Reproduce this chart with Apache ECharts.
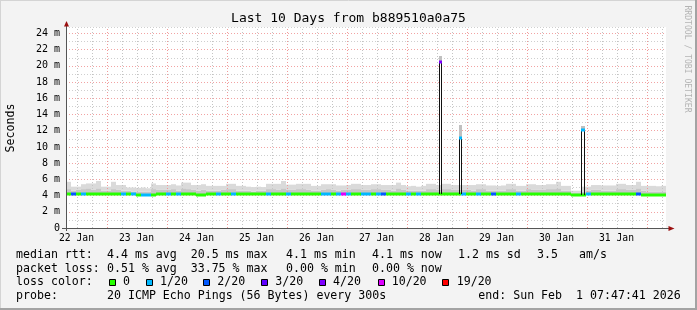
<!DOCTYPE html>
<html><head><meta charset="utf-8">
<script src="https://cdn.jsdelivr.net/npm/echarts@6/dist/echarts.min.js"></script>
<style>html,body{margin:0;padding:0;background:#f3f3f3}#c{width:697px;height:310px}</style>
</head><body><div id="c"></div>
<script>
// ---- data (hours since 22 Jan 00:00; values in ms) ----
const START_H = 7.795;      // Jan 22 07:47:41
const END_H = 247.795;      // Feb 1 07:47:41
const BIN_H = 2;            // each sample covers 2 hours
const Y_MAX = 24.8;

const smokeLow = [
 4.15,4.15,4.15,4.15,4.15,4.15,4.15,4.15,4.15,4.15,
 4.15,4.15,4.15,4.15,4.0,4.0,4.0,4.0,4.15,4.15,
 4.15,4.15,4.15,4.15,4.15,4.15,4.0,4.0,4.15,4.15,
 4.15,4.15,4.15,4.15,4.15,4.15,4.15,4.15,4.15,4.15,
 4.15,4.15,4.15,4.15,4.15,4.15,4.15,4.15,4.15,4.15,
 4.15,4.15,4.15,4.15,4.15,4.15,4.15,4.15,4.15,4.15,
 4.15,4.15,4.15,4.15,4.15,4.15,4.15,4.15,4.15,4.15,
 4.15,4.15,4.15,4.15,4.15,4.15,4.15,4.15,4.15,4.15,
 4.15,4.15,4.15,4.15,4.15,4.15,4.15,4.15,4.15,4.15,
 4.15,4.15,4.15,4.15,4.15,4.15,4.15,4.15,4.15,4.15,
 4.15,4.0,4.0,4.0,4.15,4.15,4.15,4.15,4.15,4.15,
 4.15,4.15,4.15,4.15,4.15,4.0,4.0,4.0,4.0,4.0
];
const smokeMid = [
 4.8,4.6,4.7,4.8,4.9,4.7,4.9,4.6,4.6,4.8,
 4.7,4.6,4.6,4.5,4.5,4.5,4.5,4.8,4.7,4.7,
 4.7,4.8,4.6,4.9,4.8,4.7,4.6,4.7,4.6,4.6,
 4.6,4.7,4.8,4.8,4.6,4.6,4.6,4.5,4.6,4.6,
 4.8,4.8,4.7,4.9,4.7,4.7,4.8,4.8,4.7,4.6,
 4.6,4.7,4.8,4.7,4.6,4.7,4.7,4.8,4.8,4.7,
 4.7,4.8,4.8,4.7,4.7,4.6,4.9,4.7,4.6,4.6,
 4.6,4.6,4.8,4.8,4.7,4.8,4.8,4.7,4.7,4.7,
 4.7,4.6,4.8,4.8,4.6,4.6,4.6,4.6,4.8,4.8,
 4.6,4.6,4.8,4.7,4.7,4.7,4.8,4.8,4.9,4.6,
 4.6,4.3,4.3,4.5,4.6,4.7,4.7,4.6,4.6,4.6,
 4.8,4.8,4.7,4.7,4.9,4.6,4.5,4.5,4.5,4.5
];
const smokeTop = [
 5.7,5.1,5.1,5.4,5.5,5.5,5.8,5.1,5.1,5.7,
 5.3,5.3,5.0,5.0,4.95,5.0,4.9,5.5,5.3,5.3,
 5.3,5.4,5.25,5.6,5.6,5.3,5.3,5.4,5.2,5.2,
 5.2,5.2,5.45,5.45,5.2,5.2,5.1,5.05,5.1,5.05,
 5.45,5.45,5.45,5.8,5.35,5.35,5.45,5.45,5.45,5.2,
 5.2,5.4,5.4,5.4,5.25,5.25,5.3,5.45,5.45,5.3,
 5.3,5.4,5.4,5.3,5.3,5.3,5.6,5.3,5.15,5.2,
 5.1,5.2,5.45,5.45,5.3,5.45,5.45,5.3,5.3,5.3,
 5.3,5.3,5.4,5.4,5.25,5.25,5.2,5.25,5.45,5.45,
 5.2,5.2,5.4,5.4,5.3,5.3,5.4,5.4,5.7,5.2,
 5.2,4.6,4.6,5.1,5.1,5.3,5.3,5.25,5.25,5.25,
 5.45,5.45,5.3,5.3,5.7,5.2,5.2,5.2,5.15,5.2
];
const median = [
 4.25,4.25,4.25,4.25,4.25,4.25,4.25,4.25,4.25,4.25,
 4.25,4.25,4.25,4.25,4.1,4.1,4.1,4.1,4.25,4.25,
 4.25,4.25,4.25,4.25,4.25,4.25,4.1,4.1,4.25,4.25,
 4.25,4.25,4.25,4.25,4.25,4.25,4.25,4.25,4.25,4.25,
 4.25,4.25,4.25,4.25,4.25,4.25,4.25,4.25,4.25,4.25,
 4.25,4.25,4.25,4.25,4.25,4.25,4.25,4.25,4.25,4.25,
 4.25,4.25,4.25,4.25,4.25,4.25,4.25,4.25,4.25,4.25,
 4.25,4.25,4.25,4.25,4.25,4.25,4.25,4.25,4.25,4.25,
 4.25,4.25,4.25,4.25,4.25,4.25,4.25,4.25,4.25,4.25,
 4.25,4.25,4.25,4.25,4.25,4.25,4.25,4.25,4.25,4.25,
 4.25,4.1,4.1,4.1,4.25,4.25,4.25,4.25,4.25,4.25,
 4.25,4.25,4.25,4.25,4.25,4.1,4.1,4.1,4.1,4.1
];
// loss class index per sample (index into lossColors)
const loss = [
 0,2,0,1,0,0,0,0,0,0,
 0,1,0,1,0,1,1,0,0,0,
 1,0,1,0,0,0,0,0,0,0,
 1,0,0,1,0,0,0,0,0,0,
 1,0,0,0,1,0,0,0,0,0,
 0,1,1,0,1,5,1,0,0,1,
 1,0,1,2,0,0,0,0,1,0,
 1,0,0,0,0,0,0,0,0,1,
 0,0,1,0,0,2,0,0,0,0,
 1,0,0,0,0,0,0,0,0,0,
 0,0,0,0,1,0,0,0,0,0,
 0,0,0,0,2,0,0,0,0,0
];
// short latency spikes
const spikeStart  = [157.1, 165.1, 213.9];
const spikeEnd    = [157.9, 165.9, 214.9];
const spikeBase   = [4.25, 4.25, 4.1];
const spikeMedian = [20.5, 11.1, 12.05];
const spikeTop    = [21.2, 12.7, 12.55];
const spikeLoss   = [4, 1, 1];

const lossColors = ['#26ff00','#00b8ff','#0059ff','#5e00ff','#7e00ff','#dd00ff','#ff0000'];
const lossLabels = ['0','1/20','2/20','3/20','4/20','10/20','19/20'];
const dayLabels = ['22 Jan','23 Jan','24 Jan','25 Jan','26 Jan','27 Jan','28 Jan','29 Jan','30 Jan','31 Jan'];
const dayLabelHours = [12,36,60,84,108,132,156,180,204,228];

const statsRtt  = ['median rtt:','4.4 ms avg','20.5 ms max','4.1 ms min','4.1 ms now','1.2 ms sd','3.5','am/s'];
const statsLoss = ['packet loss:','0.51 % avg','33.75 % max','0.00 % min','0.00 % now'];
const probeText = ['probe:','20 ICMP Echo Pings (56 Bytes) every 300s','end: Sun Feb  1 07:47:41 2026'];
const titleText = 'Last 10 Days from b889510a0a75';

// ---- build ----
const MONO = 'DejaVu Sans Mono';
const GRID = {left:66, top:27, width:600, height:201};
const minorH = [], majorH = [];
for (let h = 12; h < END_H; h += 6) { (h % 24 === 0 ? majorH : minorH).push([h]); }

const bins = smokeTop.map((t,i)=>[START_H+i*BIN_H, START_H+(i+1)*BIN_H, smokeLow[i], smokeMid[i], t, median[i], loss[i]]);
const spikes = spikeStart.map((s,i)=>[s, spikeEnd[i], spikeBase[i], spikeMedian[i], spikeTop[i], spikeLoss[i]]);

function renderSmoke(params, api){
  const s=api.value(0), e=api.value(1);
  const x0=Math.round(api.coord([s,0])[0]), x1=Math.round(api.coord([e,0])[0]);
  const yLo=api.coord([s,api.value(2)])[1], yMi=api.coord([s,api.value(3)])[1], yHi=api.coord([s,api.value(4)])[1];
  return {type:'group', children:[
    {type:'rect', shape:{x:x0,y:yMi,width:x1-x0,height:yLo-yMi}, style:{fill:'#c6c6c6'}},
    {type:'rect', shape:{x:x0,y:yHi,width:x1-x0,height:yMi-yHi}, style:{fill:'#dadada'}}
  ]};
}
function renderMedian(params, api){
  const s=api.value(0), e=api.value(1);
  const x0=Math.round(api.coord([s,0])[0]), x1=Math.round(api.coord([e,0])[0]);
  const y=Math.round(api.coord([s,api.value(5)])[1]);
  return {type:'rect', shape:{x:x0,y:y-1.5,width:x1-x0,height:3}, style:{fill:lossColors[api.value(6)]}};
}
function renderSpike(params, api){
  const s=api.value(0), e=api.value(1);
  const x0=Math.round(api.coord([s,0])[0]), x1=Math.round(api.coord([e,0])[0]);
  const yB=Math.round(api.coord([s,api.value(2)])[1]);
  const yM=Math.round(api.coord([s,api.value(3)])[1]);
  const yT=Math.round(api.coord([s,api.value(4)])[1]);
  return {type:'group', children:[
    {type:'rect', shape:{x:x0,y:yT,width:x1-x0+1,height:yM-yT}, style:{fill:'#c0c0c0'}},
    {type:'polyline', shape:{points:[[x0+0.5,yB],[x0+0.5,yM],[x1+0.5,yM],[x1+0.5,yB]]}, style:{stroke:'#111',lineWidth:1,fill:null}},
    {type:'rect', shape:{x:x0,y:yM-1.5,width:x1-x0+1,height:3}, style:{fill:lossColors[api.value(5)]}}
  ]};
}
function gridRenderer(color){
  return function(params, api){
    const x=Math.round(api.coord([api.value(0),0])[0])+0.5;
    const yb=api.coord([api.value(0),0])[1], yt=api.coord([api.value(0),Y_MAX])[1];
    return {type:'line', shape:{x1:x,y1:yb,x2:x,y2:yt}, style:{stroke:color,lineWidth:1,lineDash:[1,2]}};
  };
}

const txt = (x,y,text,extra)=>Object.assign({type:'text', x:x, y:y, style:Object.assign({text:text, fill:'#000', font:'11.6px "'+MONO+'"', verticalAlign:'middle', align:'left'}, extra||{})});
const graphics = [];
// frame
graphics.push({type:'line', shape:{x1:0,y1:0.5,x2:697,y2:0.5}, style:{stroke:'#d4d4d4'}});
graphics.push({type:'line', shape:{x1:0.5,y1:0,x2:0.5,y2:310}, style:{stroke:'#d4d4d4'}});
graphics.push({type:'rect', shape:{x:695,y:0,width:2,height:310}, style:{fill:'#a3a3a3'}});
graphics.push({type:'rect', shape:{x:0,y:308,width:697,height:2}, style:{fill:'#a3a3a3'}});
// axis extensions and arrows
graphics.push({type:'line', shape:{x1:66.5,y1:231,x2:66.5,y2:23}, style:{stroke:'#555',lineWidth:1}, z:50});
graphics.push({type:'line', shape:{x1:62,y1:228.5,x2:670,y2:228.5}, style:{stroke:'#555',lineWidth:1}, z:50});
graphics.push({type:'polygon', shape:{points:[[64,26.5],[69,26.5],[66.5,21]]}, style:{fill:'#9b1010'}, z:51});
graphics.push({type:'polygon', shape:{points:[[668.5,226],[668.5,231],[674.5,228.5]]}, style:{fill:'#9b1010'}, z:51});
// axis name & watermark
graphics.push(txt(11,128,'Seconds',{align:'center'}));
graphics[graphics.length-1].rotation = Math.PI/2;
graphics.push({type:'text', x:687.5, y:59, rotation:-Math.PI/2, style:{text:'RRDTOOL / TOBI OETIKER', fill:'#b4b4b4', font:'8.1px "'+MONO+'"', align:'center', verticalAlign:'middle'}});
// stats lines
const rttX = [16,107,190.7,286,372,458,537,579];
statsRtt.forEach((t,i)=>graphics.push(txt(rttX[i],255,t)));
const lossX = [16,107,190.7,286,372];
statsLoss.forEach((t,i)=>graphics.push(txt(lossX[i],268.5,t)));
graphics.push(txt(16,282.3,'loss color:'));
const boxX = [109,146,203,261,319,378,442];
const boxTextX = [123,160,217.3,275.3,333,391.7,456.7];
lossColors.forEach((c,i)=>{
  graphics.push({type:'rect', shape:{x:boxX[i]+0.5,y:279.5,width:6,height:6}, style:{fill:c, stroke:'#000', lineWidth:1}});
  graphics.push(txt(boxTextX[i],282.3,lossLabels[i]));
});
const probeX = [16,107,478.3];
probeText.forEach((t,i)=>graphics.push(txt(probeX[i],296,t)));

const chart = echarts.init(document.getElementById('c'), null, {renderer:'canvas', width:697, height:310});
chart.setOption({
  backgroundColor:'#f3f3f3',
  animation:false,
  title:{text:titleText, left:'center', top:12, padding:0, textStyle:{fontFamily:MONO, fontSize:13, fontWeight:'normal', color:'#000'}},
  grid:Object.assign({show:true, backgroundColor:'#ffffff', borderWidth:0}, GRID),
  xAxis:{type:'value', min:START_H, max:END_H,
    axisLine:{show:false}, axisTick:{show:false}, splitLine:{show:false},
    axisLabel:{customValues:dayLabelHours, formatter:v=>dayLabels[dayLabelHours.indexOf(v)]||'', fontFamily:MONO, fontSize:9.7, color:'#000', margin:5}
  },
  yAxis:{type:'value', min:0, max:Y_MAX, interval:1,
    axisLine:{show:false}, axisTick:{show:false},
    splitLine:{show:true, lineStyle:{color:['#f2a3a3','#cfcfcf'], width:1, type:[1,2]}},
    axisLabel:{showMaxLabel:false, formatter:v=>(v%2===0 && v<=24)?(v===0?'0':v+' m'):'', fontFamily:MONO, fontSize:10, color:'#000', margin:6}
  },
  series:[
    {type:'custom', name:'smoke', data:bins, renderItem:renderSmoke, encode:{x:[0,1], y:[2,3,4]}, clip:true, z:2},
    {type:'custom', name:'minorGrid', data:minorH, renderItem:gridRenderer('#c4c4c4'), encode:{x:0}, z:3},
    {type:'custom', name:'majorGrid', data:majorH, renderItem:gridRenderer('#f09a9a'), encode:{x:0}, z:3},
    {type:'custom', name:'median', data:bins, renderItem:renderMedian, encode:{x:[0,1], y:5}, clip:true, z:4},
    {type:'custom', name:'spikes', data:spikes, renderItem:renderSpike, encode:{x:[0,1], y:[2,3,4]}, clip:true, z:5}
  ],
  graphic:graphics
});
</script></body></html>
